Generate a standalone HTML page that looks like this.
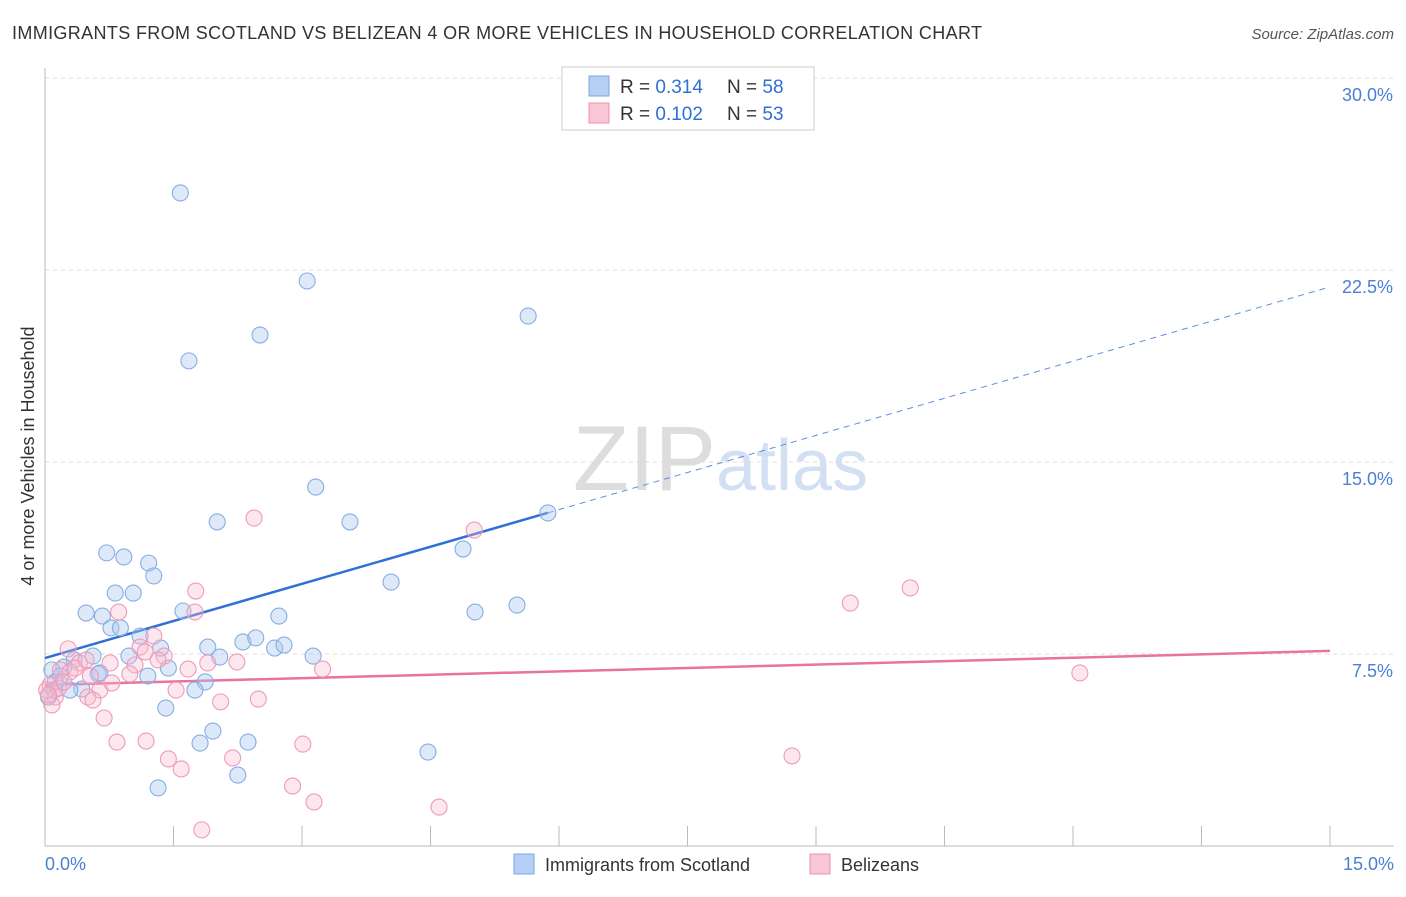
<!DOCTYPE html>
<html><head><meta charset="utf-8"><style>
body{margin:0;background:#fff;font-family:"Liberation Sans",sans-serif;}
svg text{font-family:"Liberation Sans",sans-serif;}
</style></head><body>
<svg id="c" width="1406" height="892" xmlns="http://www.w3.org/2000/svg">
<text x="12" y="39" font-size="18" fill="#333" textLength="970">IMMIGRANTS FROM SCOTLAND VS BELIZEAN 4 OR MORE VEHICLES IN HOUSEHOLD CORRELATION CHART</text>
<text x="1394" y="39" font-size="15" fill="#555" text-anchor="end" font-style="italic">Source: ZipAtlas.com</text>
<text x="716" y="490" font-size="92" fill="#ddd" text-anchor="end" font-family="Liberation Serif">ZIP</text>
<text x="716" y="490" font-size="72" fill="#d3e0f3">atlas</text>
<g id="grid"></g><g id="axes"></g><g id="lines"></g><g id="pts"></g>
<text transform="translate(34,456) rotate(-90)" font-size="18" fill="#333" text-anchor="middle">4 or more Vehicles in Household</text>
<text x="45" y="870" font-size="18" fill="#4a7fd4">0.0%</text>
<text x="1394" y="870" font-size="18" fill="#4a7fd4" text-anchor="end">15.0%</text>
<g>
<rect x="562" y="67" width="252" height="63" fill="#fff" stroke="#ccc"/>
<rect x="589" y="76" width="20" height="20" fill="#b6d0f5" stroke="#7aa6e0"/>
<rect x="589" y="103" width="20" height="20" fill="#f9c6d6" stroke="#ef8fb0"/>
<text x="620" y="93" font-size="19" fill="#333">R = <tspan fill="#2f6fd6">0.314</tspan></text>
<text x="727" y="93" font-size="19" fill="#333">N = <tspan fill="#2f6fd6">58</tspan></text>
<text x="620" y="120" font-size="19" fill="#333">R = <tspan fill="#2f6fd6">0.102</tspan></text>
<text x="727" y="120" font-size="19" fill="#333">N = <tspan fill="#2f6fd6">53</tspan></text>
</g>
<g>
<rect x="514" y="854" width="20" height="20" fill="#b6d0f5" stroke="#7aa6e0"/>
<text x="545" y="871" font-size="18" fill="#333">Immigrants from Scotland</text>
<rect x="810" y="854" width="20" height="20" fill="#f9c6d6" stroke="#ef8fb0"/>
<text x="841" y="871" font-size="18" fill="#333">Belizeans</text>
</g>
</svg>
<script>
const yTicks=[7.5,15,22.5,30];
const xTicks=[0,1.5,3,4.5,6,7.5,9,10.5,12,13.5,15];
const blueX=[1.58,3.06,2.51,1.68,5.64,3.16,2.01,3.56,5.87,0.72,0.92,1.21,1.27,4.88,4.04,0.82,1.03,0.48,0.67,1.61,2.73,5.02,5.51,0.77,0.88,1.11,1.35,0.98,1.90,2.31,2.46,2.68,2.79,3.13,2.04,0.56,0.34,0.22,0.08,0.18,0.62,1.44,1.20,1.87,1.75,0.43,0.12,1.41,1.96,1.81,2.37,4.47,2.25,1.32,0.04,0.29,0.64,0.11];
const blueY=[25.51,22.07,19.96,18.95,20.70,14.02,12.66,12.66,13.01,11.45,11.29,11.05,10.55,11.60,10.31,9.88,9.88,9.10,8.98,9.18,8.98,9.14,9.41,8.52,8.52,8.20,7.73,7.42,7.77,7.97,8.13,7.73,7.85,7.42,7.38,7.42,7.27,6.99,6.88,6.64,6.72,6.95,6.64,6.41,6.09,6.13,6.41,5.39,4.49,4.02,4.06,3.67,2.77,2.27,5.82,6.09,6.76,6.09];
const pinkX=[2.44,5.01,10.10,9.40,1.76,0.86,1.75,1.27,0.27,1.11,1.39,1.32,0.76,1.05,0.99,1.90,2.24,3.24,12.08,1.67,1.53,0.64,0.50,0.56,0.78,0.40,0.18,0.06,0.12,0.08,2.05,2.49,0.69,0.84,1.18,1.44,2.19,3.01,1.59,2.89,3.14,4.60,1.83,8.72,0.29,0.35,0.53,0.02,1.17,0.16,0.48,0.22,0.04];
const pinkY=[12.81,12.34,10.08,9.49,9.96,9.14,9.14,8.20,7.70,7.77,7.42,7.27,7.15,7.07,6.72,7.15,7.19,6.91,6.76,6.91,6.09,6.09,5.82,5.70,6.37,7.15,6.88,6.29,5.82,5.51,5.63,5.74,5.00,4.06,4.10,3.40,3.44,3.98,3.01,2.34,1.72,1.52,0.63,3.52,6.80,6.95,6.64,6.09,7.58,6.17,7.27,6.41,5.90];
const blueLine=[7.34,21.84], blueSolidEnd=5.87;
const pinkLine=[6.29,7.62];
const NS='http://www.w3.org/2000/svg';
const X=v=>45+v/15*1285, Y=v=>846-v*25.6;
function mk(t,a,p){const e=document.createElementNS(NS,t);for(const k in a)e.setAttribute(k,a[k]);document.getElementById(p).appendChild(e);return e;}
mk('line',{x1:45,y1:78,x2:1394,y2:78,stroke:'#ddd','stroke-dasharray':'4,4'},'grid');
yTicks.forEach(t=>{
 const l=mk('line',{x1:45,y1:Y(t),x2:1394,y2:Y(t),stroke:'#ddd','stroke-dasharray':'4,4'},'grid');
 
 
 const tx=mk('text',{x:1393,y:Y(t)+23,'font-size':18,fill:'#4a7fd4','text-anchor':'end'},'grid');
 tx.textContent=t.toFixed(1)+'%';
 
 
});
mk('line',{x1:45,y1:68,x2:45,y2:846,stroke:'#bbb'},'axes');
mk('line',{x1:45,y1:846,x2:1394,y2:846,stroke:'#bbb'},'axes');
xTicks.forEach(t=>{
 const l=mk('line',{x1:X(t),y1:826,x2:X(t),y2:846,stroke:'#bbb'},'axes');
 
 
});
function ly(a,x){return a[0]+(a[1]-a[0])*x/15;}
let l1=mk('line',{x1:X(0),y1:Y(blueLine[0]),x2:X(blueSolidEnd),y2:Y(ly(blueLine,blueSolidEnd)),stroke:'#2f6fd6','stroke-width':2.5},'lines');


let l2=mk('line',{x1:X(blueSolidEnd),y1:Y(ly(blueLine,blueSolidEnd)),x2:X(15),y2:Y(blueLine[1]),stroke:'#5b8ee0','stroke-width':1,'stroke-dasharray':'6,5'},'lines');


let l3=mk('line',{x1:X(0),y1:Y(pinkLine[0]),x2:X(15),y2:Y(pinkLine[1]),stroke:'#e8739e','stroke-width':2.5},'lines');


blueX.forEach((v,i)=>{
 const c=mk('circle',{cx:X(v),cy:Y(blueY[i]),r:8,fill:'rgba(170,200,240,0.4)',stroke:'#86aee3','stroke-width':1.1},'pts');
 
 
});
pinkX.forEach((v,i)=>{
 const c=mk('circle',{cx:X(v),cy:Y(pinkY[i]),r:8,fill:'rgba(246,185,205,0.35)',stroke:'#f09ab8','stroke-width':1.1},'pts');
 
 
});
</script>
</body></html>
